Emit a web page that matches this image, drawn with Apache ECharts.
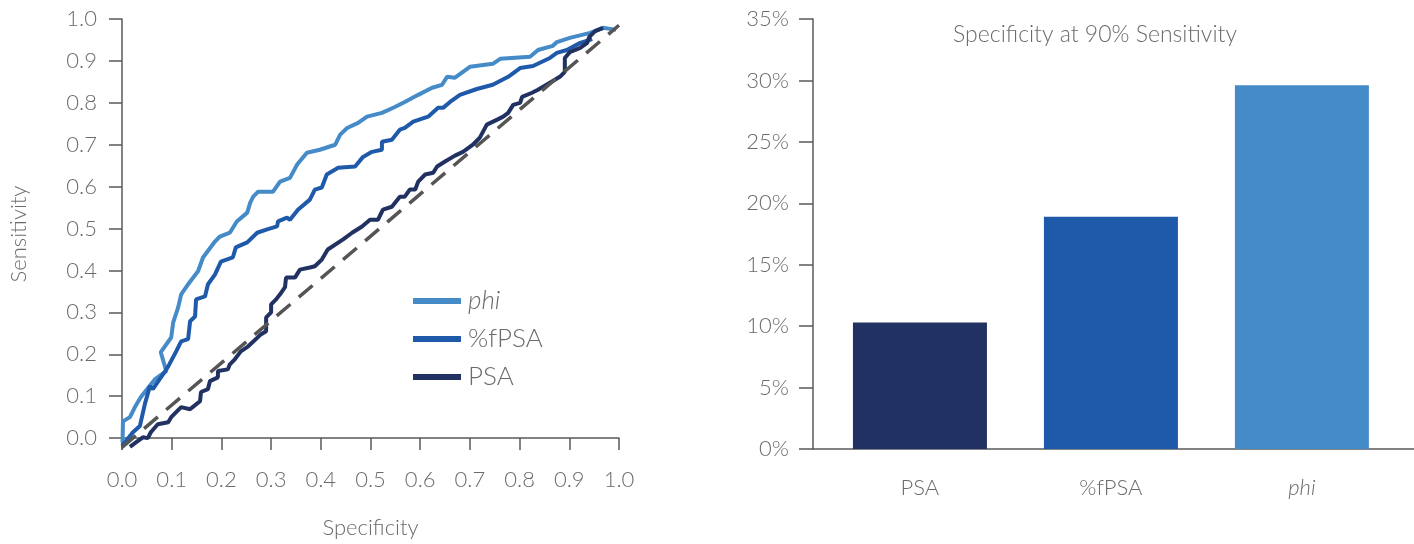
<!DOCTYPE html>
<html>
<head>
<meta charset="utf-8">
<title>ROC curves and specificity at 90% sensitivity</title>
<script src="https://cdn.jsdelivr.net/npm/echarts@6/dist/echarts.min.js"></script>
<style>
  html, body { margin: 0; padding: 0; background: #fff; }
  #chart { width: 1414px; height: 544px; }
</style>
</head>
<body>
<div id="chart"></div>
<script>
// ROC curves, [1 - specificity, sensitivity]
var phiRoc = [
  [0.001, -0.01], [0.002, 0.040], [0.016, 0.05], [0.026, 0.074], [0.038, 0.098],
  [0.066, 0.140], [0.089, 0.160], [0.078, 0.205], [0.099, 0.240], [0.103, 0.276],
  [0.113, 0.312], [0.119, 0.343], [0.133, 0.367], [0.153, 0.398], [0.163, 0.431],
  [0.187, 0.469], [0.197, 0.481], [0.217, 0.490], [0.231, 0.517], [0.252, 0.538],
  [0.258, 0.562], [0.264, 0.576], [0.274, 0.588], [0.304, 0.588], [0.318, 0.612],
  [0.338, 0.621], [0.352, 0.652], [0.372, 0.681], [0.398, 0.688], [0.429, 0.700],
  [0.439, 0.724], [0.453, 0.740], [0.475, 0.752], [0.493, 0.767], [0.523, 0.776],
  [0.549, 0.790], [0.569, 0.802], [0.596, 0.819], [0.624, 0.836], [0.644, 0.843],
  [0.654, 0.862], [0.670, 0.860], [0.700, 0.886], [0.746, 0.893], [0.761, 0.905],
  [0.821, 0.910], [0.837, 0.926], [0.867, 0.936], [0.875, 0.945], [0.901, 0.955],
  [0.942, 0.967], [0.968, 0.979], [0.994, 0.974]
]
var fpsaRoc = [
  [0.000, -0.019], [0.022, 0.014], [0.036, 0.029], [0.046, 0.081], [0.056, 0.124],
  [0.062, 0.117], [0.087, 0.160], [0.093, 0.171], [0.109, 0.207], [0.119, 0.231],
  [0.133, 0.236], [0.137, 0.279], [0.147, 0.290], [0.149, 0.331], [0.167, 0.338],
  [0.173, 0.367], [0.187, 0.390], [0.199, 0.421], [0.223, 0.431], [0.229, 0.455],
  [0.252, 0.467], [0.272, 0.490], [0.292, 0.498], [0.312, 0.505], [0.314, 0.517],
  [0.332, 0.526], [0.338, 0.521], [0.354, 0.545], [0.378, 0.569], [0.388, 0.593],
  [0.402, 0.598], [0.412, 0.629], [0.435, 0.645], [0.469, 0.648], [0.485, 0.671],
  [0.503, 0.683], [0.523, 0.688], [0.523, 0.707], [0.543, 0.712], [0.559, 0.736],
  [0.569, 0.740], [0.586, 0.755], [0.616, 0.767], [0.636, 0.788], [0.646, 0.788],
  [0.660, 0.802], [0.680, 0.819], [0.714, 0.833], [0.746, 0.843], [0.777, 0.862],
  [0.801, 0.883], [0.827, 0.888], [0.861, 0.907], [0.875, 0.919], [0.895, 0.926],
  [0.922, 0.943], [0.946, 0.952]
]
var psaRoc = [
  [0.016, -0.021], [0.028, -0.010], [0.042, 0.002], [0.052, 0.000], [0.058, 0.014],
  [0.072, 0.033], [0.093, 0.038], [0.099, 0.050], [0.119, 0.074], [0.137, 0.069],
  [0.157, 0.088], [0.159, 0.110], [0.173, 0.117], [0.177, 0.136], [0.193, 0.145],
  [0.193, 0.160], [0.213, 0.164], [0.217, 0.176], [0.227, 0.188], [0.239, 0.207],
  [0.254, 0.219], [0.280, 0.248], [0.290, 0.255], [0.290, 0.288], [0.300, 0.300],
  [0.300, 0.319], [0.310, 0.331], [0.318, 0.343], [0.328, 0.360], [0.330, 0.383],
  [0.348, 0.383], [0.358, 0.402], [0.378, 0.407], [0.388, 0.410], [0.402, 0.426],
  [0.414, 0.450], [0.445, 0.474], [0.463, 0.490], [0.483, 0.505], [0.499, 0.521],
  [0.515, 0.521], [0.525, 0.545], [0.543, 0.552], [0.559, 0.576], [0.569, 0.576],
  [0.579, 0.593], [0.590, 0.593], [0.596, 0.612], [0.610, 0.629], [0.626, 0.633],
  [0.634, 0.648], [0.650, 0.660], [0.670, 0.674], [0.686, 0.683], [0.706, 0.700],
  [0.720, 0.717], [0.734, 0.748], [0.755, 0.760], [0.767, 0.767], [0.777, 0.776],
  [0.787, 0.795], [0.801, 0.800], [0.805, 0.814], [0.825, 0.824], [0.837, 0.831],
  [0.861, 0.848], [0.881, 0.862], [0.891, 0.874], [0.891, 0.907], [0.901, 0.921],
  [0.922, 0.931], [0.936, 0.943], [0.940, 0.957], [0.952, 0.971], [0.968, 0.979]
]
var chanceLine = [[0, -0.022], [1, 0.985]]
var rocTicks = [0, 0.1, 0.2, 0.3, 0.4, 0.5, 0.6, 0.7, 0.8, 0.9, 1.0]

// bar chart
var markers = ['PSA', '%fPSA', 'phi']
var specAt90 = [10.3, 18.9, 29.6]

var colors = { PSA: '#213262', '%fPSA': '#1f5aaa', phi: '#448bc8' }
var axisColor = '#5a5a5a'
var textColor = '#6b6b6b'
var font = 'Lato'

var chart = echarts.init(document.getElementById('chart'))

function markerLabel(name) {
  return name === 'phi' ? '{i|phi}' : name
}

chart.setOption({
  animation: false,
  textStyle: { fontFamily: font, fontWeight: 300, color: textColor },
  title: {
    text: 'Specificity at 90% Sensitivity',
    left: 1090,
    top: 18,
    textAlign: 'center',
    textStyle: { fontSize: 23, fontWeight: 300, color: textColor, fontFamily: font }
  },
  legend: {
    orient: 'vertical',
    left: 408,
    top: 283,
    itemWidth: 48,
    itemHeight: 6,
    itemGap: 12,
    icon: 'rect',
    data: ['phi', '%fPSA', 'PSA'],
    formatter: markerLabel,
    textStyle: {
      fontSize: 26, color: textColor, fontFamily: font, fontWeight: 300, padding: [0, 0, 0, 2],
      rich: { i: { fontSize: 26, fontStyle: 'italic', color: textColor, fontFamily: font, fontWeight: 300 } }
    }
  },
  grid: [
    { left: 122, top: 19, width: 497, height: 431 },
    { left: 813, top: 19, width: 601, height: 430 }
  ],
  xAxis: [{
    gridIndex: 0,
    type: 'value',
    min: 0,
    max: 1,
    interval: 0.1,
    name: 'Specificity',
    nameLocation: 'middle',
    nameGap: 68,
    nameTextStyle: { fontSize: 22, color: textColor, fontFamily: font, fontWeight: 300 },
    axisLine: { show: true, lineStyle: { color: axisColor, width: 1.5 } },
    axisTick: { show: true, length: 12, inside: false, lineStyle: { color: axisColor, width: 1.5 } },
    axisLabel: {
      margin: 20, fontSize: 22, color: textColor, fontFamily: font, fontWeight: 300,
      formatter: function (v) { return v.toFixed(1) }
    },
    splitLine: { show: false }
  }, {
    gridIndex: 1,
    type: 'value',
    min: -0.56,
    max: 2.587,
    axisLine: { show: true, onZero: false, lineStyle: { color: axisColor, width: 1.5 } },
    axisTick: { show: false },
    axisLabel: {
      customValues: [0, 1, 2],
      margin: 28, fontSize: 22, color: textColor, fontFamily: font, fontWeight: 300,
      formatter: function (v) { return markerLabel(markers[Math.round(v)]) },
      rich: { i: { fontSize: 22, fontStyle: 'italic', color: textColor, fontFamily: font, fontWeight: 300 } }
    },
    splitLine: { show: false }
  }],
  yAxis: [{
    gridIndex: 0,
    type: 'value',
    min: -0.026,
    max: 1,
    name: 'Sensitivity',
    nameLocation: 'middle',
    nameGap: 92,
    nameTextStyle: { fontSize: 22, color: textColor, fontFamily: font, fontWeight: 300 },
    axisLine: { show: true, onZero: false, lineStyle: { color: axisColor, width: 1.5 } },
    axisTick: { show: true, length: 13, customValues: rocTicks, lineStyle: { color: axisColor, width: 1.5 } },
    axisLabel: {
      customValues: rocTicks,
      margin: 25, fontSize: 22, color: textColor, fontFamily: font, fontWeight: 300,
      formatter: function (v) { return v.toFixed(1) }
    },
    splitLine: { show: false }
  }, {
    gridIndex: 1,
    type: 'value',
    min: 0,
    max: 35,
    interval: 5,
    axisLine: { show: true, onZero: false, lineStyle: { color: axisColor, width: 1.5 } },
    axisTick: { show: true, length: 14, lineStyle: { color: axisColor, width: 1.5 } },
    axisLabel: { margin: 24, fontSize: 22, color: textColor, fontFamily: font, fontWeight: 300, formatter: '{value}%' },
    splitLine: { show: false }
  }],
  series: [
    {
      name: 'phi', type: 'line', xAxisIndex: 0, yAxisIndex: 0,
      data: phiRoc, showSymbol: false, color: colors.phi,
      lineStyle: { width: 4, color: colors.phi }
    },
    {
      name: '%fPSA', type: 'line', xAxisIndex: 0, yAxisIndex: 0,
      data: fpsaRoc, showSymbol: false, color: colors['%fPSA'],
      lineStyle: { width: 4, color: colors['%fPSA'] }
    },
    {
      name: 'PSA', type: 'line', xAxisIndex: 0, yAxisIndex: 0,
      data: psaRoc, showSymbol: false, color: colors.PSA,
      lineStyle: { width: 4, color: colors.PSA }
    },
    {
      name: 'chance', type: 'line', xAxisIndex: 0, yAxisIndex: 0,
      data: chanceLine, showSymbol: false, z: 3,
      lineStyle: { width: 3.5, color: '#555', type: [18, 11] }
    },
    {
      name: 'spec', type: 'bar', xAxisIndex: 1, yAxisIndex: 1,
      barWidth: 134,
      data: specAt90.map(function (v, i) {
        return { value: [i, v], itemStyle: { color: colors[markers[i]] } }
      })
    }
  ]
})
</script>
</body>
</html>
